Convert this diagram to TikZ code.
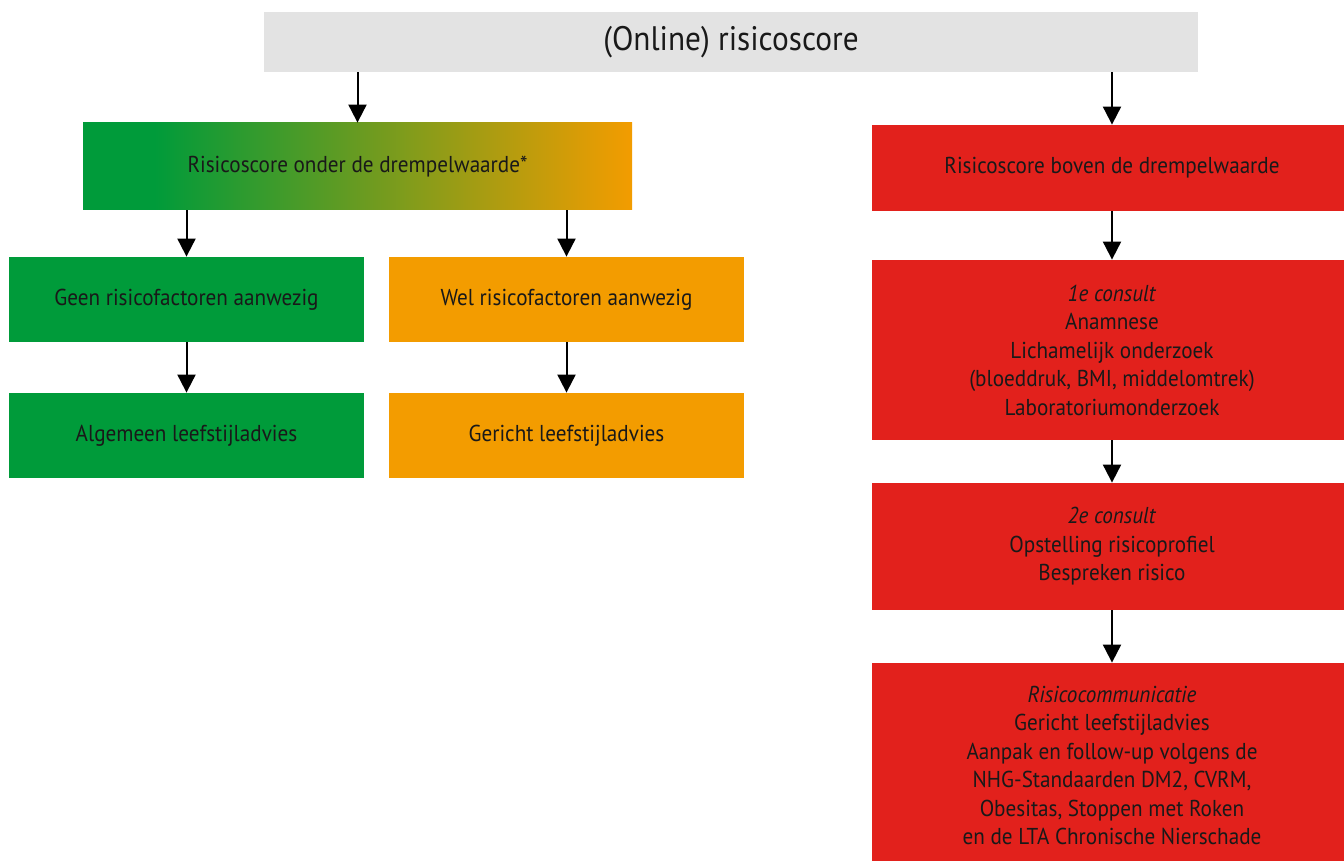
\documentclass[tikz,border=0pt]{standalone}
\usepackage{fontspec}
\setmainfont[FakeStretch=0.92]{PT Sans}
\usetikzlibrary{arrows.meta}

\definecolor{riskgrey}{HTML}{E3E3E3}
\definecolor{riskgreen}{HTML}{009B3A}
\definecolor{riskorange}{HTML}{F39C00}
\definecolor{riskred}{HTML}{E2211C}
\pgfdeclarehorizontalshading{lowshade}{100bp}{color(0bp)=(riskgreen); color(31.5bp)=(riskgreen); color(75bp)=(riskorange); color(100bp)=(riskorange)}

\tikzset{
  box/.style={inner sep=0pt, align=center, text=black!90, font=\fontsize{11.5}{14.25}\selectfont},
  greenbox/.style={box, fill=riskgreen, minimum width=177.5pt, minimum height=42.5pt},
  orangebox/.style={box, fill=riskorange, minimum width=177.5pt, minimum height=42.5pt},
  redbox/.style={box, fill=riskred, minimum width=240pt},
  flow/.style={-{Triangle[width=9pt,length=9pt]}, line width=1pt}
}

\begin{document}
\begin{tikzpicture}[x=0.5pt,y=-0.5pt]
    \clip (0,0) rectangle (1344,861);
    \fill[white] (0,0) rectangle (1344,861);

    \node[box, fill=riskgrey, minimum width=467pt, minimum height=30pt, font=\fontsize{17}{20}\selectfont] (score) at (731,42) {(Online) risicoscore};

    % onder de drempel
    \node[box, shade, shading=lowshade, minimum width=274.5pt, minimum height=43.5pt] (low) at (357.5,166.5) {Risicoscore onder de drempelwaarde*};
    \node[greenbox] (geen) at (186.5,299.5) {Geen risicofactoren aanwezig};
    \node[orangebox] (wel) at (566.5,299.5) {Wel risicofactoren aanwezig};
    \node[greenbox] (alg) at (186.5,435.5) {Algemeen leefstijladvies};
    \node[orangebox] (ger) at (566.5,435.5) {Gericht leefstijladvies};

    % boven de drempel
    \node[redbox, minimum height=43pt] (high) at (1112,168) {Risicoscore boven de drempelwaarde};
    \node[redbox, minimum height=90pt] (cons1) at (1112,350) {\textit{1e consult}\\Anamnese\\Lichamelijk onderzoek\\(bloeddruk, BMI, middelomtrek)\\Laboratoriumonderzoek};
    \node[redbox, minimum height=63.5pt] (cons2) at (1112,546.5) {\textit{2e consult}\\Opstelling risicoprofiel\\Bespreken risico};
    \node[redbox, minimum height=102.5pt] (comm) at (1112,765.5) {\textit{Risicocommunicatie}\\Gericht leefstijladvies\\Aanpak en follow-up volgens de\\NHG-Standaarden DM2, CVRM,\\Obesitas, Stoppen met Roken\\en de LTA Chronische Nierschade};

    \draw[flow] (score.south -| low.north) -- (low.north);
    \draw[flow] (score.south -| high.north) -- (high.north);
    \draw[flow] (low.south -| geen.north) -- (geen.north);
    \draw[flow] (low.south -| wel.north) -- (wel.north);
    \draw[flow] (geen) -- (alg);
    \draw[flow] (wel) -- (ger);
    \draw[flow] (high) -- (cons1);
    \draw[flow] (cons1) -- (cons2);
    \draw[flow] (cons2) -- (comm);
\end{tikzpicture}
\end{document}
